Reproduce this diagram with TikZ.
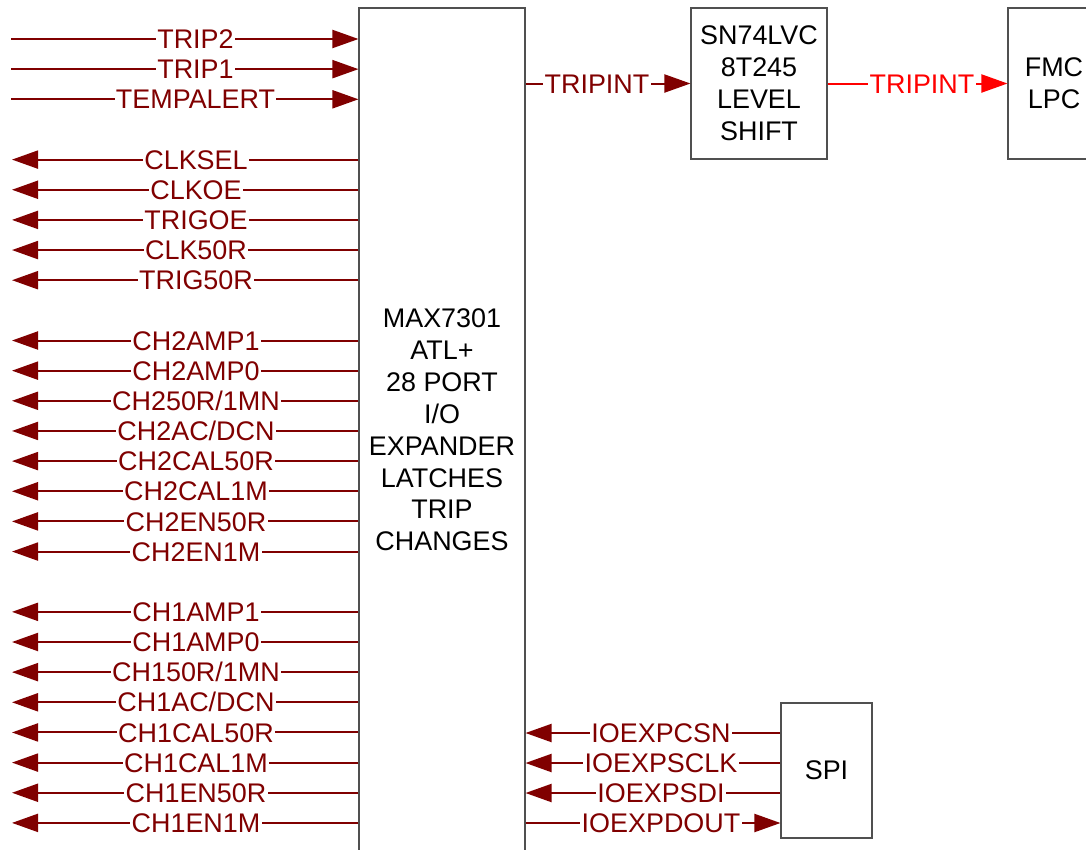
\documentclass[tikz,border=0pt]{standalone}
\usepackage{fontspec}
\setmainfont{Liberation Sans}
\usetikzlibrary{arrows.meta}
\definecolor{sigred}{HTML}{800000}
\definecolor{brightred}{HTML}{FF0000}
\definecolor{boxgray}{HTML}{505050}
\begin{document}
\begin{tikzpicture}[x=0.75pt,y=-0.75pt,
  box/.style={draw=boxgray, line width=0.8pt, inner sep=0pt, align=center,
    font=\fontsize{20.2}{23.9}\selectfont, text=black},
  sig/.style={draw=sigred, line width=1.5pt, -{Triangle[length=19.5pt,width=13.5pt]}},
  lbl/.style={fill=white, inner sep=1pt, text=sigred, text height=14.5pt, text depth=0pt,
    font=\fontsize{20.2}{23}\selectfont},
]
\useasboundingbox (0,0) rectangle (1086,850);
\begin{scope}
\clip (0,0) rectangle (1086,850);
% boxes
\node[box, minimum width=124.5pt, minimum height=633pt] (mx) at (442,430)
  {MAX7301\\ATL+\\28 PORT\\I/O\\EXPANDER\\LATCHES\\TRIP\\CHANGES};
\node[box, minimum width=102pt, minimum height=113.25pt,
  font=\fontsize{20.2}{24}\selectfont] (ls) at (759,83.5)
  {SN74LVC\\8T245\\LEVEL\\SHIFT};
\node[box, minimum width=69pt, minimum height=113.25pt] (fmc) at (1054,83.5)
  {FMC\\LPC};
\node[box, minimum width=68.25pt, minimum height=101.25pt] (spi) at (826.5,770.5)
  {SPI};

% inputs on the left
\foreach \i/\t in {0/TRIP2,1/TRIP1,2/TEMPALERT} {
  \coordinate (L\i) at (11,{39+30.15*\i});
  \draw[sig] (L\i) -- (L\i -| mx.west);
  \node[lbl] (N\i) at ({195.5},{39+30.15*\i}) {\t};
}
% outputs on the left
\foreach \i/\t in {4/CLKSEL,5/CLKOE,6/TRIGOE,7/CLK50R,8/TRIG50R,
  10/CH2AMP1,11/CH2AMP0,12/{CH250R/1MN},13/{CH2AC/DCN},14/CH2CAL50R,15/CH2CAL1M,16/CH2EN50R,17/CH2EN1M,
  19/CH1AMP1,20/CH1AMP0,21/{CH150R/1MN},22/{CH1AC/DCN},23/CH1CAL50R,24/CH1CAL1M,25/CH1EN50R,26/CH1EN1M} {
  \coordinate (L\i) at (12,{39+30.15*\i});
  \draw[sig] (L\i -| mx.west) -- (L\i);
  \node[lbl] (N\i) at ({196},{39+30.15*\i}) {\t};
}

% TRIPINT
\draw[sig] (mx.east |- ls.west) -- (ls.west);
\node[lbl] (t1) at (597,84) {TRIPINT};
\draw[sig, draw=brightred] (ls.east) -- (fmc.west);
\node[lbl, text=brightred] (t2) at (922,84) {TRIPINT};

% SPI
\foreach \i/\y/\t in {1/733/IOEXPCSN,2/763/IOEXPSCLK,3/793/IOEXPSDI} {
  \coordinate (S\i) at (0,\y);
  \draw[sig] (spi.west |- S\i) -- (mx.east |- S\i);
  \node[lbl] (M\i) at (661,\y) {\t};
}
\coordinate (S4) at (0,823);
\draw[sig] (mx.east |- S4) -- (spi.west |- S4);
\node[lbl] (M4) at (661,823) {IOEXPDOUT};
\end{scope}
\end{tikzpicture}
\end{document}
